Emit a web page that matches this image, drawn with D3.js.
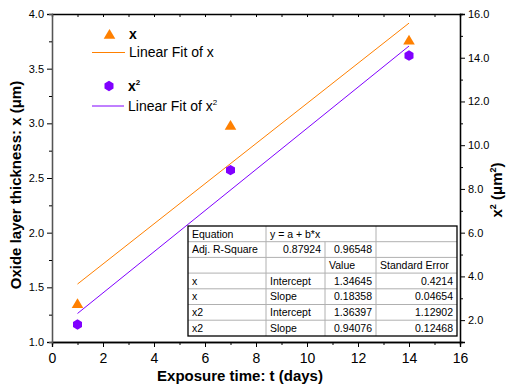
<!DOCTYPE html>
<script src="https://d3js.org/d3.v7.min.js"></script>
<html>
<head>
<style>
  body { margin: 0; background: #fff; }
  text { font-family: "Liberation Sans", Arial, sans-serif; }
</style>
</head>
<body>
<script>
// data
var days = [1, 7, 14];
var thickness = [1.35, 2.98, 3.76];      // x (um), left axis
var thicknessSq = [1.80, 8.86, 14.10];   // x^2 (um^2), right axis
// linear fit results (from the table)
var fitNames = ["x", "x2"];
var fitIntercepts = [1.34645, 1.36397];
var fitSlopes = [0.18358, 0.94076];
var fitInterceptErr = [0.4214, 1.12902];
var fitSlopeErr = [0.04654, 0.12468];
var adjR2 = [0.87924, 0.96548];
// tick labels
var xTicks = [0, 2, 4, 6, 8, 10, 12, 14, 16];
var yLeftTicks = [1.0, 1.5, 2.0, 2.5, 3.0, 3.5, 4.0];
var yRightTicks = [2, 4, 6, 8, 10, 12, 14, 16];

var W = 511, H = 389;
var margin = ({top: 14, left: 52, right: 51, bottom: 47});
var orange = "#ff8000", purple = "#8000ff";

var svg = d3.select("body").append("svg")
  .attr("width", W)
  .attr("height", H);

var x = d3.scaleLinear().domain([0, 16]).range([margin.left, W - margin.right]);
var yL = d3.scaleLinear().domain([1, 4]).range([H - margin.bottom, margin.top]);
var yR = d3.scaleLinear().domain([1, 16]).range([H - margin.bottom, margin.top]);

// marker shapes
function triangle(cx, cy) {
  return "M" + (cx) + "," + (cy - 5.5) + "L" + (cx + 5.8) + "," + (cy + 4.3) + "L" + (cx - 5.8) + "," + (cy + 4.3) + "Z";
}
function hexagon(cx, cy) {
  var r = 5.2, p = [];
  for (var k = 0; k < 6; k++) {
    var a = Math.PI / 6 + k * Math.PI / 3;
    p.push([cx + r * Math.cos(a), cy + r * Math.sin(a)]);
  }
  return "M" + p.join("L") + "Z";
}

// axes
var xAx = d3.axisBottom(x).tickValues(xTicks).tickSize(5).tickFormat(d3.format("d"));
var xMinor = d3.axisBottom(x).tickValues(d3.range(1, 16, 2)).tickSize(3).tickFormat("");
var xTop = d3.axisTop(x).tickValues(d3.range(1, 16)).tickSize(-3).tickFormat("");
var yAx = d3.axisLeft(yL).tickValues(yLeftTicks).tickSize(5).tickFormat(d3.format(".1f"));
var yMinor = d3.axisLeft(yL).tickValues([1.25, 1.75, 2.25, 2.75, 3.25, 3.75]).tickSize(3).tickFormat("");
var yRAx = d3.axisRight(yR).tickValues(yRightTicks).tickSize(5).tickFormat(d3.format(".1f"));
var yRMinor = d3.axisRight(yR).tickValues([3, 5, 7, 9, 11, 13, 15]).tickSize(3).tickFormat("");

var gx = svg.append("g").attr("transform", `translate(0,${H - margin.bottom})`).call(xAx);
gx.selectAll("text").attr("font-size", 14).attr("dy", "0.9em").attr("fill", "#000");
svg.append("g").attr("transform", `translate(0,${H - margin.bottom})`).call(xMinor);
svg.append("g").attr("transform", `translate(0,${margin.top})`).call(xTop);
var gy = svg.append("g").attr("transform", `translate(${margin.left},0)`).call(yAx);
gy.selectAll("text").attr("font-size", 11).attr("fill", "#000");
gy.select(".domain").attr("stroke", "#555");
svg.append("g").attr("transform", `translate(${margin.left},0)`).call(yMinor).select(".domain").attr("stroke", "#555");
var gyr = svg.append("g").attr("transform", `translate(${W - margin.right},0)`).call(yRAx);
gyr.selectAll("text").attr("font-size", 11).attr("fill", "#000");
svg.append("g").attr("transform", `translate(${W - margin.right},0)`).call(yRMinor);
svg.selectAll(".domain").attr("stroke-width", 1.3);
svg.selectAll(".tick line").attr("stroke", "#000");

// axis titles
svg.append("text")
  .attr("x", 240).attr("y", 381)
  .attr("text-anchor", "middle")
  .attr("font-size", 15).attr("font-weight", "bold")
  .text("Exposure time: t (days)");
svg.append("text")
  .attr("transform", "translate(21,185) rotate(-90)")
  .attr("text-anchor", "middle")
  .attr("font-size", 15).attr("font-weight", "bold")
  .text("Oxide layer thickness: x (\u03bcm)");
var rt = svg.append("text")
  .attr("transform", "translate(502,190) rotate(-90)")
  .attr("text-anchor", "middle")
  .attr("font-size", 15).attr("font-weight", "bold");
rt.append("tspan").text("x");
rt.append("tspan").attr("font-size", 9).attr("dy", -6).text("2");
rt.append("tspan").attr("dy", 6).text(" (\u03bcm");
rt.append("tspan").attr("font-size", 9).attr("dy", -6).text("2");
rt.append("tspan").attr("dy", 6).text(")");

// fit lines
var t0 = days[0], t1 = days[days.length - 1];
svg.append("line")
  .attr("x1", x(t0)).attr("y1", yL(fitIntercepts[0] + fitSlopes[0] * t0))
  .attr("x2", x(t1)).attr("y2", yL(fitIntercepts[0] + fitSlopes[0] * t1))
  .attr("stroke", orange).attr("stroke-width", 1);
svg.append("line")
  .attr("x1", x(t0)).attr("y1", yR(fitIntercepts[1] + fitSlopes[1] * t0))
  .attr("x2", x(t1)).attr("y2", yR(fitIntercepts[1] + fitSlopes[1] * t1))
  .attr("stroke", purple).attr("stroke-width", 1);

// points
svg.selectAll("path.tri")
  .data(days)
  .enter().append("path")
  .attr("class", "tri")
  .attr("d", function(d, i) { return triangle(x(d), yL(thickness[i])); })
  .attr("fill", orange);
svg.selectAll("path.hex")
  .data(days)
  .enter().append("path")
  .attr("class", "hex")
  .attr("d", function(d, i) { return hexagon(x(d), yR(thicknessSq[i])); })
  .attr("fill", purple);

// legend
var lg = svg.append("g").attr("font-size", 14);
lg.append("path").attr("d", triangle(109.5, 34.5)).attr("fill", orange);
lg.append("text").attr("x", 129).attr("y", 39).attr("font-weight", "bold").text("x");
lg.append("line").attr("x1", 92).attr("x2", 125).attr("y1", 52.5).attr("y2", 52.5).attr("stroke", orange);
lg.append("text").attr("x", 129).attr("y", 57).text("Linear Fit of x");
lg.append("path").attr("d", hexagon(109, 86)).attr("fill", purple);
var lx2 = lg.append("text").attr("x", 128).attr("y", 91).attr("font-weight", "bold");
lx2.append("tspan").text("x");
lx2.append("tspan").attr("font-size", 8).attr("dy", -6).text("2");
lg.append("line").attr("x1", 92).attr("x2", 124).attr("y1", 106).attr("y2", 106).attr("stroke", purple);
var lf2 = lg.append("text").attr("x", 128).attr("y", 111);
lf2.append("tspan").text("Linear Fit of x");
lf2.append("tspan").attr("font-size", 8).attr("dy", -6).text("2");

// fit table
var colX = [188, 266, 325, 376, 457];
var rowY = [226, 241.7, 257.4, 273.1, 288.8, 304.5, 320.2, 336];
var f5 = d3.format(".5f");
var tableRows = [
  [["Equation", "l"], ["y = a + b*x", "l"], null, ["", "l"]],
  [["Adj. R-Square", "l"], [f5(adjR2[0]), "r"], [f5(adjR2[1]), "r"], ["", "l"]],
  [["", "l"], ["", "l"], ["Value", "l"], ["Standard Error", "l"]],
  [[fitNames[0], "l"], ["Intercept", "l"], [f5(fitIntercepts[0]), "r"], [String(fitInterceptErr[0]), "r"]],
  [[fitNames[0], "l"], ["Slope", "l"], [f5(fitSlopes[0]), "r"], [String(fitSlopeErr[0]), "r"]],
  [[fitNames[1], "l"], ["Intercept", "l"], [f5(fitIntercepts[1]), "r"], [String(fitInterceptErr[1]), "r"]],
  [[fitNames[1], "l"], ["Slope", "l"], [f5(fitSlopes[1]), "r"], [String(fitSlopeErr[1]), "r"]]
];
var tb = svg.append("g").attr("font-size", 10.5);
tb.append("rect")
  .attr("x", colX[0]).attr("y", rowY[0])
  .attr("width", colX[4] - colX[0]).attr("height", rowY[7] - rowY[0])
  .attr("fill", "#fff");
// inner grid
for (var r = 1; r < 7; r++) {
  tb.append("line").attr("x1", colX[0]).attr("x2", colX[4])
    .attr("y1", rowY[r]).attr("y2", rowY[r])
    .attr("stroke", "#b0b0b0").attr("stroke-width", 1);
}
for (var c = 1; c < 4; c++) {
  tb.append("line").attr("x1", colX[c]).attr("x2", colX[c])
    .attr("y1", c == 2 ? rowY[1] : rowY[0]).attr("y2", rowY[7])
    .attr("stroke", "#b0b0b0").attr("stroke-width", 1);
}
tableRows.forEach(function(row, r) {
  row.forEach(function(cell, c) {
    if (!cell || cell[0] === "") return;
    var right = cell[1] == "r";
    tb.append("text")
      .attr("x", right ? colX[c + 1] - 4 : colX[c] + 4)
      .attr("y", rowY[r] + 11.5)
      .attr("text-anchor", right ? "end" : "start")
      .text(cell[0]);
  });
});
tb.append("rect")
  .attr("x", colX[0]).attr("y", rowY[0])
  .attr("width", colX[4] - colX[0]).attr("height", rowY[7] - rowY[0])
  .attr("fill", "none").attr("stroke", "#000").attr("stroke-width", 1.3);
</script>
</body>
</html>
